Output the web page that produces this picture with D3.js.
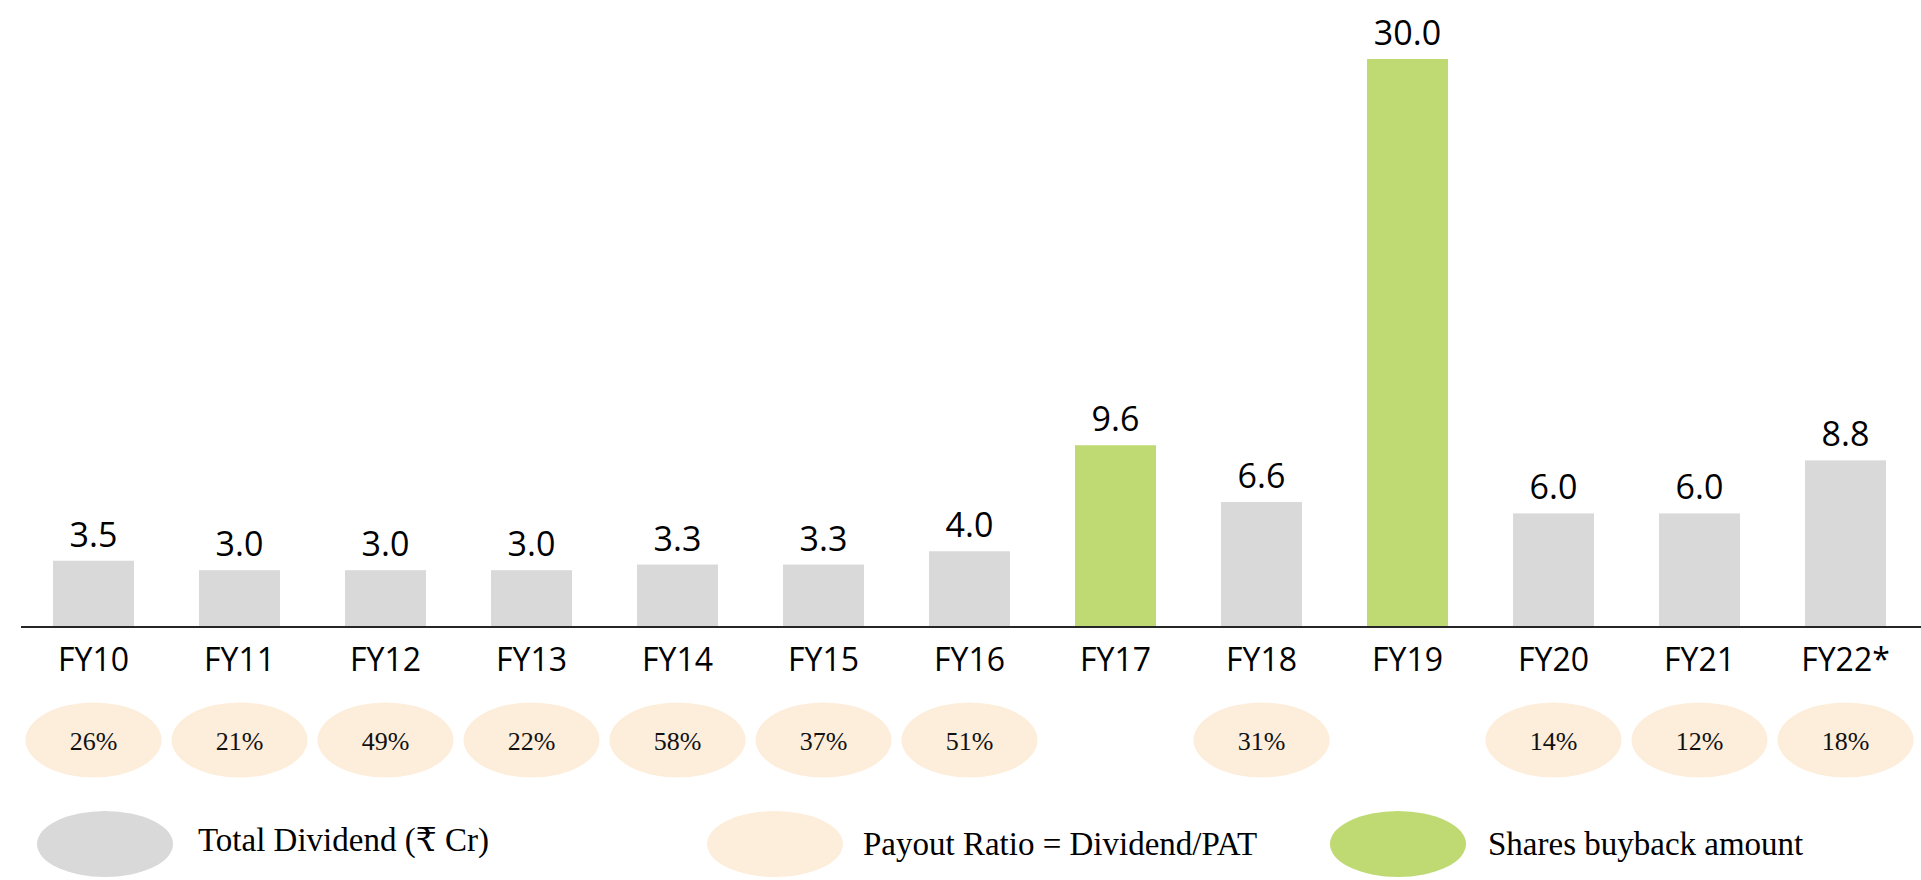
<!DOCTYPE html>
<head>
<meta charset="utf-8">
<style>
body, html {
  margin: 0;
  padding: 0;
  background: #fff;
}
.value, .tick-label {
  font-family: "Open Sans", sans-serif;
  fill: #000;
  text-anchor: middle;
}
.value { font-size: 34px; }
.tick-label { font-size: 32px; }
.ratio {
  font-family: "Liberation Serif", "DejaVu Serif", serif;
  font-size: 26px;
  fill: #111;
  text-anchor: middle;
}
.legend-text {
  font-family: "Liberation Serif", "DejaVu Serif", serif;
  font-size: 33px;
  fill: #000;
}
</style>
<script src="https://d3js.org/d3.v7.min.js"></script>
</head>
<body>
<div id="chart"></div>
<script>

// ---- data ----
var years     = ["FY10", "FY11", "FY12", "FY13", "FY14", "FY15", "FY16", "FY17", "FY18", "FY19", "FY20", "FY21", "FY22*"];
var dividend  = [3.5, 3.0, 3.0, 3.0, 3.3, 3.3, 4.0, 9.6, 6.6, 30.0, 6.0, 6.0, 8.8];
var buyback   = [false, false, false, false, false, false, false, true, false, true, false, false, false];
var payout    = ["26%", "21%", "49%", "22%", "58%", "37%", "51%", null, "31%", null, "14%", "12%", "18%"];
var legendLabels = ["Total Dividend (₹ Cr)", "Payout Ratio = Dividend/PAT", "Shares buyback amount"];

// ---- layout ----
var width = 1921,
    height = 880,
    baseY = 627;

var colGray  = "#d9d9d9",
    colGreen = "#bfd973",
    colPeach = "#fdeedb";

var svg = d3.select("#chart").append("svg")
    .attr("width", width)
    .attr("height", height);

var x = d3.scaleBand()
    .domain(years)
    .range([20.5, 1918.5])
    .paddingInner(65 / 146)
    .paddingOuter(65 / 292);

var y = d3.scaleLinear()
    .domain([0, 30])
    .range([baseY, 59]);

var rows = years.map(function(d, i) {
  return {year: d, value: dividend[i], buyback: buyback[i], payout: payout[i]};
});

// bars
svg.append("g").selectAll("rect")
  .data(rows)
  .enter().append("rect")
  .attr("x", function(d) { return x(d.year); })
  .attr("y", function(d) { return y(d.value); })
  .attr("width", x.bandwidth())
  .attr("height", function(d) { return baseY - y(d.value); })
  .attr("fill", function(d) { return d.buyback ? colGreen : colGray; });

// value labels
svg.append("g").selectAll("text")
  .data(rows)
  .enter().append("text")
  .attr("class", "value")
  .attr("x", function(d) { return x(d.year) + x.bandwidth() / 2; })
  .attr("y", function(d) { return y(d.value) - 14; })
  .text(function(d) { return d3.format(".1f")(d.value); });

// category labels (axis without domain path)
var axis = d3.axisBottom(x).tickSize(0).tickPadding(0);
var gAxis = svg.append("g")
    .attr("transform", "translate(0," + baseY + ")")
    .call(axis);
gAxis.select(".domain").remove();
gAxis.attr("font-family", null).attr("font-size", null);
gAxis.selectAll(".tick text")
    .attr("class", "tick-label")
    .attr("dy", null)
    .attr("y", 44);

// baseline
svg.append("line")
    .attr("x1", 21).attr("x2", width)
    .attr("y1", baseY).attr("y2", baseY)
    .attr("stroke", "#262626")
    .attr("stroke-width", 2);

// payout ratio ellipses
var ratios = svg.append("g").selectAll("g")
  .data(rows.filter(function(d) { return d.payout; }))
  .enter().append("g")
  .attr("transform", function(d) {
    return "translate(" + (x(d.year) + x.bandwidth() / 2) + ",740)";
  });

ratios.append("ellipse")
  .attr("rx", 68)
  .attr("ry", 37.5)
  .attr("fill", colPeach);

ratios.append("text")
  .attr("class", "ratio")
  .attr("y", 10)
  .text(function(d) { return d.payout; });

// legend
var legendItems = [
  {label: legendLabels[0], color: colGray,  cx: 105, tx: 198},
  {label: legendLabels[1], color: colPeach, cx: 775, tx: 863},
  {label: legendLabels[2], color: colGreen, cx: 1398, tx: 1488}
];

var leg = svg.append("g").selectAll("g")
  .data(legendItems)
  .enter().append("g");

leg.append("ellipse")
  .attr("cx", function(d) { return d.cx; })
  .attr("cy", 844)
  .attr("rx", 68)
  .attr("ry", 33)
  .attr("fill", function(d) { return d.color; });

leg.append("text")
  .attr("class", "legend-text")
  .attr("x", function(d) { return d.tx; })
  .attr("y", function(d, i) { return i === 0 ? 851 : 855; })
  .text(function(d) { return d.label; });

</script>
</body>
</html>
